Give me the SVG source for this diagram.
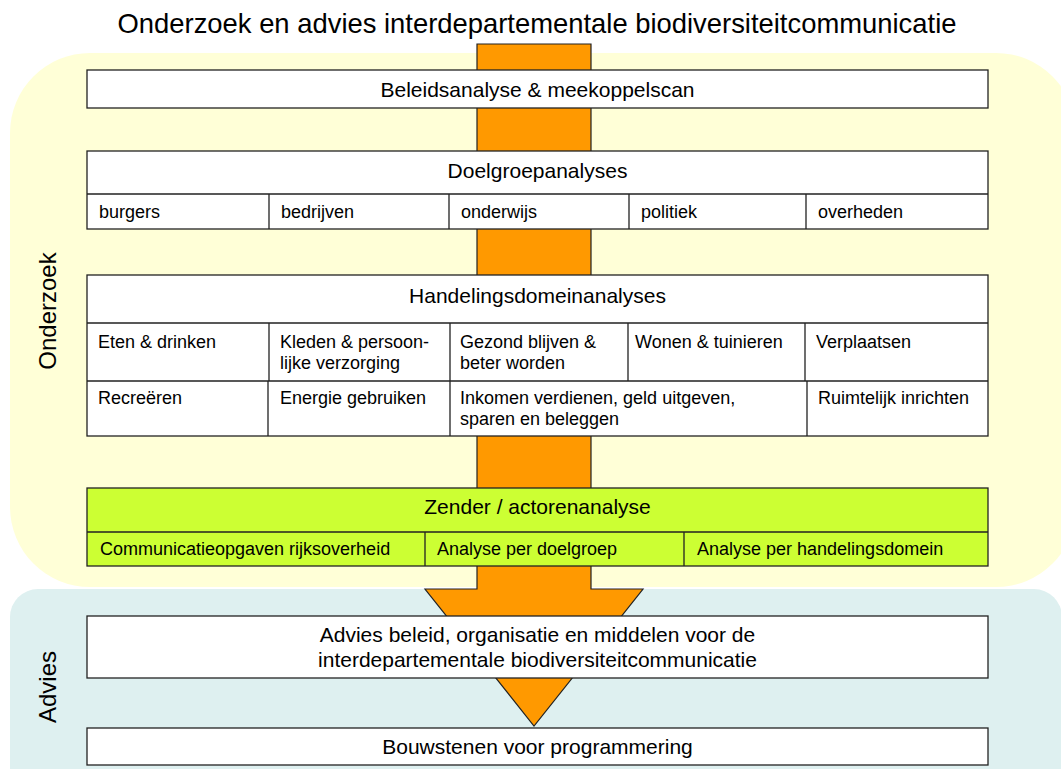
<svg xmlns="http://www.w3.org/2000/svg" width="1061" height="769" viewBox="0 0 1061 769">
<style>
text{font-family:"Liberation Sans",Arial,sans-serif;fill:#000}
.t{font-size:27.4px;text-anchor:middle}
.h{font-size:21px;text-anchor:middle}
.s{font-size:18px}
.z{font-size:24px;text-anchor:middle}
.box{fill:#fff;stroke:#222;stroke-width:1.3}
.grn{fill:#CCFF33;stroke:#222;stroke-width:1.3}
.ln{stroke:#222;stroke-width:1.3;fill:none}
</style>
<rect x="0" y="0" width="1061" height="769" fill="#fff"/>
<g id="zone-onderzoek">
<rect x="10" y="53" width="1066" height="534" rx="80" ry="80" fill="#FFFFD7"/>
<text class="z" transform="translate(56,311) rotate(-90)">Onderzoek</text>
</g>
<g id="zone-advies">
<rect x="10" y="589" width="1052" height="220" rx="28" ry="28" fill="#DEF0F0"/>
<text class="z" transform="translate(56,687) rotate(-90)">Advies</text>
</g>
<text class="t" x="537" y="33">Onderzoek en advies interdepartementale biodiversiteitcommunicatie</text>
<g id="connectors">
<polygon points="477,44 591,44 591,589 643,589 534,726 425,589 477,589" fill="#FF9900" stroke="#222" stroke-width="1.2"/>
</g>
<g id="beleidsanalyse">
<rect class="box" x="87" y="70" width="901" height="38"/>
<text class="h" x="537.5" y="97">Beleidsanalyse &amp; meekoppelscan</text>
</g>
<g id="doelgroepanalyses">
<rect class="box" x="87" y="151" width="901" height="78"/>
<path class="ln" d="M87 194H988M269 194V229M449 194V229M629 194V229M806 194V229"/>
<text class="h" x="537.5" y="178">Doelgroepanalyses</text>
<text class="s" x="99" y="218">burgers</text>
<text class="s" x="281" y="218">bedrijven</text>
<text class="s" x="461" y="218">onderwijs</text>
<text class="s" x="641" y="218">politiek</text>
<text class="s" x="818" y="218">overheden</text>
</g>
<g id="handelingsdomeinanalyses">
<rect class="box" x="87" y="275" width="901" height="161"/>
<path class="ln" d="M87 323H988M87 381H988M269 323V381M450 323V436M628 323V381M805 323V381M268 381V436M807 381V436"/>
<text class="h" x="537.5" y="303">Handelingsdomeinanalyses</text>
<text class="s" x="98" y="348">Eten &amp; drinken</text>
<text class="s" x="280" y="348">Kleden &amp; persoon-</text>
<text class="s" x="280" y="369">lijke verzorging</text>
<text class="s" x="460" y="348">Gezond blijven &amp;</text>
<text class="s" x="460" y="369">beter worden</text>
<text class="s" x="635" y="348">Wonen &amp; tuinieren</text>
<text class="s" x="816" y="348">Verplaatsen</text>
<text class="s" x="98" y="404">Recreëren</text>
<text class="s" x="280" y="404">Energie gebruiken</text>
<text class="s" x="460" y="404">Inkomen verdienen, geld uitgeven,</text>
<text class="s" x="460" y="425">sparen en beleggen</text>
<text class="s" x="818" y="404">Ruimtelijk inrichten</text>
</g>
<g id="zender-actorenanalyse">
<rect class="grn" x="87" y="488" width="901" height="78"/>
<path class="ln" d="M87 532H988M425 532V566M684 532V566"/>
<text class="h" x="537.5" y="514">Zender / actorenanalyse</text>
<text class="s" x="100" y="555">Communicatieopgaven rijksoverheid</text>
<text class="s" x="437" y="555">Analyse per doelgroep</text>
<text class="s" x="697" y="555">Analyse per handelingsdomein</text>
</g>
<g id="advies-beleid">
<rect class="box" x="87" y="616" width="901" height="62"/>
<text class="h" x="537.5" y="642">Advies beleid, organisatie en middelen voor de</text>
<text class="h" x="537.5" y="667">interdepartementale biodiversiteitcommunicatie</text>
</g>
<g id="bouwstenen">
<rect class="box" x="87" y="728" width="901" height="37"/>
<text class="h" x="537.5" y="754">Bouwstenen voor programmering</text>
</g>
</svg>
